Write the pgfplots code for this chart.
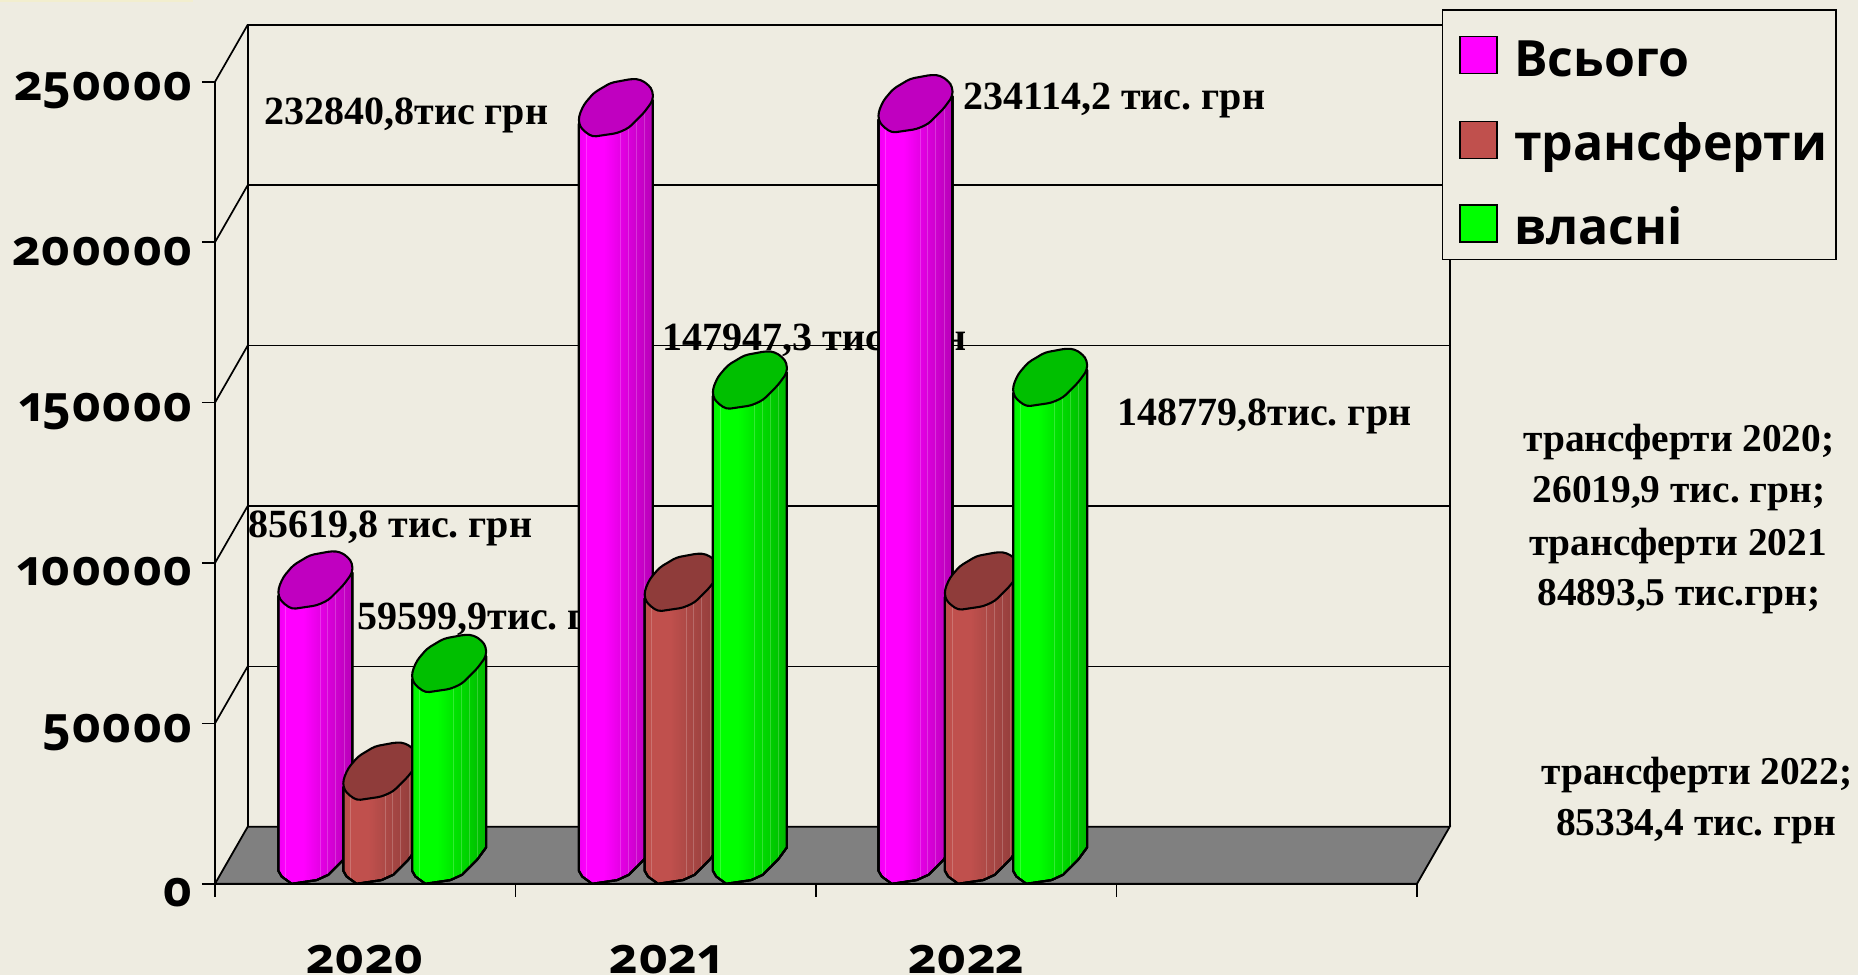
\documentclass[border=0pt]{standalone}
\usepackage{pgfplots}
\pgfplotsset{compat=1.18}
\usepackage{fontspec}
\usetikzlibrary{plotmarks}
\setmainfont{Liberation Serif}
\newfontfamily\tickfont[Numbers=OldStyle]{Open Sans}
\newfontfamily\legfont{Open Sans}

\definecolor{bg}{HTML}{EEECE1}
\definecolor{mag}{HTML}{FF00FF}
\definecolor{magA}{HTML}{F000F0}
\definecolor{magB}{HTML}{E000E0}
\definecolor{magC}{HTML}{B800B8}
\definecolor{magT}{HTML}{C000C0}
\definecolor{rd}{HTML}{C0504D}
\definecolor{rdA}{HTML}{B84C49}
\definecolor{rdB}{HTML}{AA4845}
\definecolor{rdC}{HTML}{8F3C3A}
\definecolor{rdT}{HTML}{8F3C3A}
\definecolor{gr}{HTML}{00FF00}
\definecolor{grA}{HTML}{00F000}
\definecolor{grB}{HTML}{00E000}
\definecolor{grC}{HTML}{00B800}
\definecolor{grT}{HTML}{00BF00}

\pgfdeclarehorizontalshading{magbody}{100bp}{color(0bp)=(magA);color(25bp)=(magA);color(30bp)=(mag);color(42bp)=(mag);color(55bp)=(magB);color(75bp)=(magC);color(100bp)=(magC)}
\pgfdeclarehorizontalshading{rdbody}{100bp}{color(0bp)=(rdA);color(25bp)=(rdA);color(30bp)=(rd);color(42bp)=(rd);color(55bp)=(rdB);color(75bp)=(rdC);color(100bp)=(rdC)}
\pgfdeclarehorizontalshading{grbody}{100bp}{color(0bp)=(grA);color(25bp)=(grA);color(30bp)=(gr);color(42bp)=(gr);color(55bp)=(grB);color(75bp)=(grC);color(100bp)=(grC)}

% bar height in px from the value of the current point
\newcommand\cylheight{\begingroup\pgfkeys{/pgf/fpu=true,/pgf/fpu/output format=fixed}\pgfmathparse{\val*802/250000}\xdef\cylh{\pgfmathresult}\endgroup}

\newcommand\cylpath{(-37,13) -- (-37,{13-\cylh}) -- (-33.7,{7.3-\cylh}) -- (-23.7,{0-\cylh}) -- (1.3,{3.7-\cylh}) -- (13,{9-\cylh}) -- (28,{24-\cylh}) -- (37,{36.3-\cylh}) -- (37,36.3) -- cycle}

\newcommand\declcyl[3]{\pgfdeclareplotmark{#1}{%
  \cylheight
  \begin{scope}[x=0.5pt,y=0.5pt,line width=1.05pt,line join=round]
    \path[shading=#2] \cylpath;
    \begin{scope}
      \clip \cylpath;
      \foreach \sx in {-30,4.7,12,20,28.7}
        \draw[white,opacity=0.2,line width=0.35pt] (\sx,60) -- (\sx,{-\cylh});
    \end{scope}
    \draw[black] \cylpath;
    \draw[black,fill=#3,rounded corners=2pt] (-37,20.7) -- (-32,32.3) -- (-22,44) -- (-5.3,54) -- (16.3,58) -- (24.7,57.3) -- (33,51.7) -- (37,45.7) -- (37,36.3) -- (28,24) -- (13,9) -- (1.3,3.7) -- (-23.7,0) -- (-33.7,7.3) -- (-37,13) -- cycle;
  \end{scope}}}
\declcyl{cylmag}{magbody}{magT}
\declcyl{cylrd}{rdbody}{rdT}
\declcyl{cylgr}{grbody}{grT}

% position in reference pixels, baseline
\newcommand\dlabel[3]{\node[anchor=base west,inner sep=0pt,font=\bfseries\fontsize{20pt}{20pt}\selectfont,xshift={(#1-215)*0.5pt},yshift={(883-#2)*0.5pt}] at (axis cs:0,0) {#3};}
\newcommand\clabel[3]{\node[anchor=base,inner sep=0pt,font=\bfseries\fontsize{19.7pt}{20pt}\selectfont,xshift={(#1-215)*0.5pt},yshift={(883-#2)*0.5pt}] at (axis cs:0,0) {#3};}

\newcommand\swatch[2]{\path[draw=none,fill=none] (-6.5pt,0pt) -- (25pt,0pt);\draw[black,fill=#1,line width=0.8pt,yshift=#2] (0pt,-9.25pt) rectangle (18.5pt,9.25pt);}

\begin{document}
\frenchspacing
\begin{tikzpicture}
\fill[bg] (0,0) rectangle (929pt,487.5pt);
\path[use as bounding box] (0,0) rectangle (929pt,487.5pt);
\fill[yellow!10!bg] (0,486.4pt) rectangle (96.5pt,487.5pt);
\begin{axis}[
    at={(107.5pt,45.6pt)},
    anchor=south west,
    scale only axis,
    width=601pt,
    height=401pt,
    xmin=0,xmax=4,
    ymin=0,ymax=250000,
    axis x line*=bottom,
    axis y line*=left,
    axis line style={line width=0.9pt,-},
    clip=false,
    tick align=outside,
    xtick={0.5,1.5,2.5},
    xticklabels={2020,2021,2022},
    minor xtick={0,1,2,3,4},
    ytick={0,50000,100000,150000,200000,250000},
    yticklabels={0,50000,100000,150000,200000,250000},
    scaled y ticks=false,
    major tick length=6.5pt,
    minor tick length=6.5pt,
    tick style={line width=0.9pt,black},
    major x tick style={draw=none},
    yticklabel style={font=\tickfont\bfseries\fontsize{25pt}{25pt}\selectfont,yshift=-4.5pt,xshift=-1pt},
    xticklabel style={font=\tickfont\bfseries\fontsize{25pt}{25pt}\selectfont,inner sep=0pt,text depth=0pt,yshift=-24.1pt},
    legend cell align=left,
    legend style={
        at={(1.0205,1.0906)},anchor=north west,
        draw=black,line width=0.9pt,fill=bg,
        font=\legfont\bfseries\fontsize{25pt}{28pt}\selectfont,
        row sep=17.4pt,inner xsep=2.3pt,inner ysep=4pt,
    },
]
% back wall and floor
\addplot[forget plot,fill=gray,draw=black,line width=0.9pt] coordinates {(0,0) (4,0) (4.1088,17768) (0.1088,17768)} -- cycle;
\addplot[forget plot,black,line width=0.9pt] coordinates {(0.1088,17768) (0.1088,267768) (4.1088,267768) (4.1088,17768)};
\addplot[forget plot,black,line width=0.85pt] coordinates {(0.1088,67768) (4.1088,67768)};
\addplot[forget plot,black,line width=0.85pt] coordinates {(0.1088,117768) (4.1088,117768)};
\addplot[forget plot,black,line width=0.85pt] coordinates {(0.1088,167768) (4.1088,167768)};
\addplot[forget plot,black,line width=0.85pt] coordinates {(0.1088,217768) (4.1088,217768)};
\addplot[forget plot,black,line width=0.85pt] coordinates {(0,50000) (0.1088,67768)};
\addplot[forget plot,black,line width=0.85pt] coordinates {(0,100000) (0.1088,117768)};
\addplot[forget plot,black,line width=0.85pt] coordinates {(0,150000) (0.1088,167768)};
\addplot[forget plot,black,line width=0.85pt] coordinates {(0,200000) (0.1088,217768)};
\addplot[forget plot,black,line width=0.85pt] coordinates {(0,250000) (0.1088,267768)};

% value labels, the bars cover parts of them
\dlabel{264}{124}{232840,8тис грн}
\dlabel{248}{537}{85619,8 тис. грн}
\dlabel{357}{629}{59599,9тис. грн}
\dlabel{963}{109}{234114,2 тис. грн}
\dlabel{662}{350}{147947,3 тис. грн}
\dlabel{1117}{425}{148779,8тис. грн}
\clabel{1679}{451}{трансферти 2020;}
\clabel{1679}{502}{26019,9 тис. грн;}
\clabel{1678}{555}{трансферти 2021}
\clabel{1679}{605}{84893,5 тис.грн;}
\clabel{1697}{784}{трансферти 2022;}
\clabel{1696}{835}{85334,4 тис. грн}

\addplot[only marks,scatter,mark=cylmag,point meta=y,scatter/use mapped color={draw=black},
    visualization depends on={value \thisrow{v} \as \val},
    legend image code/.code={\swatch{mag}{-2pt}}]
    table[x=x,y=v] {
x v
0.334 85619.8
1.334 232840.8
2.331 234114.2
};
\addlegendentry{\rule{0pt}{27.4pt}Всього}
\addplot[only marks,scatter,mark=cylrd,point meta=y,scatter/use mapped color={draw=black},
    visualization depends on={value \thisrow{v} \as \val},
    legend image code/.code={\swatch{rd}{1.6pt}}]
    table[x=x,y=v] {
x v
0.550 26019.9
1.553 84893.5
2.552 85334.4
};
\addlegendentry{трансферти}
\addplot[only marks,scatter,mark=cylgr,point meta=y,scatter/use mapped color={draw=black},
    visualization depends on={value \thisrow{v} \as \val},
    legend image code/.code={\swatch{gr}{1.6pt}}]
    table[x=x,y=v] {
x v
0.779 59599.9
1.780 147947.3
2.779 148779.8
};
\addlegendentry{власні}
\end{axis}
\end{tikzpicture}
\end{document}
